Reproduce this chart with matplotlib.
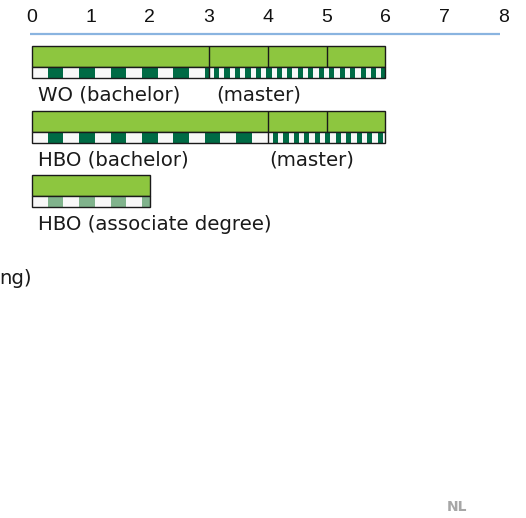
import numpy as np
import matplotlib
matplotlib.use("Agg")
import matplotlib.pyplot as plt

# Programme durations in years
programmes = ["WO", "HBO", "HBO AD"]
bachelor_years = [3, 4, 2]
master_years = [3, 2, 0]
year_dividers = [[3, 4, 5], [4, 5], []]
stripe_dark = ["#006b45", "#006b45", "#80b38c"]

labels = ["WO (bachelor)", "(master)", "HBO (bachelor)", "(master)",
          "HBO (associate degree)", "ng)"]
label_x = [0.10, 3.12, 0.10, 4.02, 0.10, -0.56]
label_y = [95, 95, 160, 160, 224, 278]

scale_ticks = [0, 1, 2, 3, 4, 5, 6, 7, 8]

# layout (pixel rows, y axis inverted)
bar_top = [46, 111, 175]
green_h = 21
stripe_h = 11
seg = 4 / 15            # bachelor stripe segment
mseg = seg / 3          # master stripe segment

GREEN = "#8dc63f"
WHITE = "#f8f8f8"

fig = plt.figure(figsize=(5.26, 5.18), dpi=100)
ax = fig.add_axes([0, 0, 1, 1])
unit = 58.9
ax.set_xlim(-32 / unit, (526 - 32) / unit)
ax.set_ylim(518, 0)
ax.axis("off")

# scale
for t in scale_ticks:
    ax.text(t, 17, str(t), ha="center", va="center", fontsize=14,
            family="Liberation Sans", color="#111111")
ax.hlines(33.7, -0.035, 7.95, color="#8ab4e0", lw=1.6)

for i, p in enumerate(programmes):
    total = bachelor_years[i] + master_years[i]
    top = bar_top[i]
    # green duration bar
    ax.barh(top + green_h / 2, total, left=0, height=green_h, color=GREEN,
            edgecolor="#1a1a1a", lw=1, zorder=2)
    for d in year_dividers[i]:
        ax.vlines(d, top, top + green_h, color="#1a1a1a", lw=1, zorder=3)
    sy = top + green_h + stripe_h / 2
    # stripe row background
    ax.barh(sy, total, left=0, height=stripe_h, color=WHITE,
            edgecolor="none", zorder=2)
    # bachelor stripes
    lefts = np.arange(seg, bachelor_years[i], 2 * seg)
    widths = np.minimum(seg, bachelor_years[i] - lefts)
    ax.barh([sy] * len(lefts), widths, left=lefts, height=stripe_h,
            color=stripe_dark[i], edgecolor="none", zorder=3)
    # master stripes
    if master_years[i] > 0:
        m0 = bachelor_years[i]
        lefts = np.arange(m0 + mseg, total, 2 * mseg)
        widths = np.minimum(mseg, total - lefts)
        ax.barh([sy] * len(lefts), widths, left=lefts, height=stripe_h,
                color=stripe_dark[i], edgecolor="none", zorder=3)
        ax.vlines(m0, sy - stripe_h / 2, sy + stripe_h / 2,
                  color="#1a1a1a", lw=1, zorder=4)
    ax.barh(sy, total, left=0, height=stripe_h, color="none",
            edgecolor="#1a1a1a", lw=1, zorder=4)

for txt, x, y in zip(labels, label_x, label_y):
    ax.text(x, y, txt, ha="left", va="center", fontsize=14.2,
            family="DejaVu Sans", color="#1a1a1a")

ax.text((457 - 32) / unit, 507, "NL", ha="center", va="center",
        fontsize=10, fontweight="bold", color="#a6a6a6")

fig.savefig("out.png", dpi=100)
